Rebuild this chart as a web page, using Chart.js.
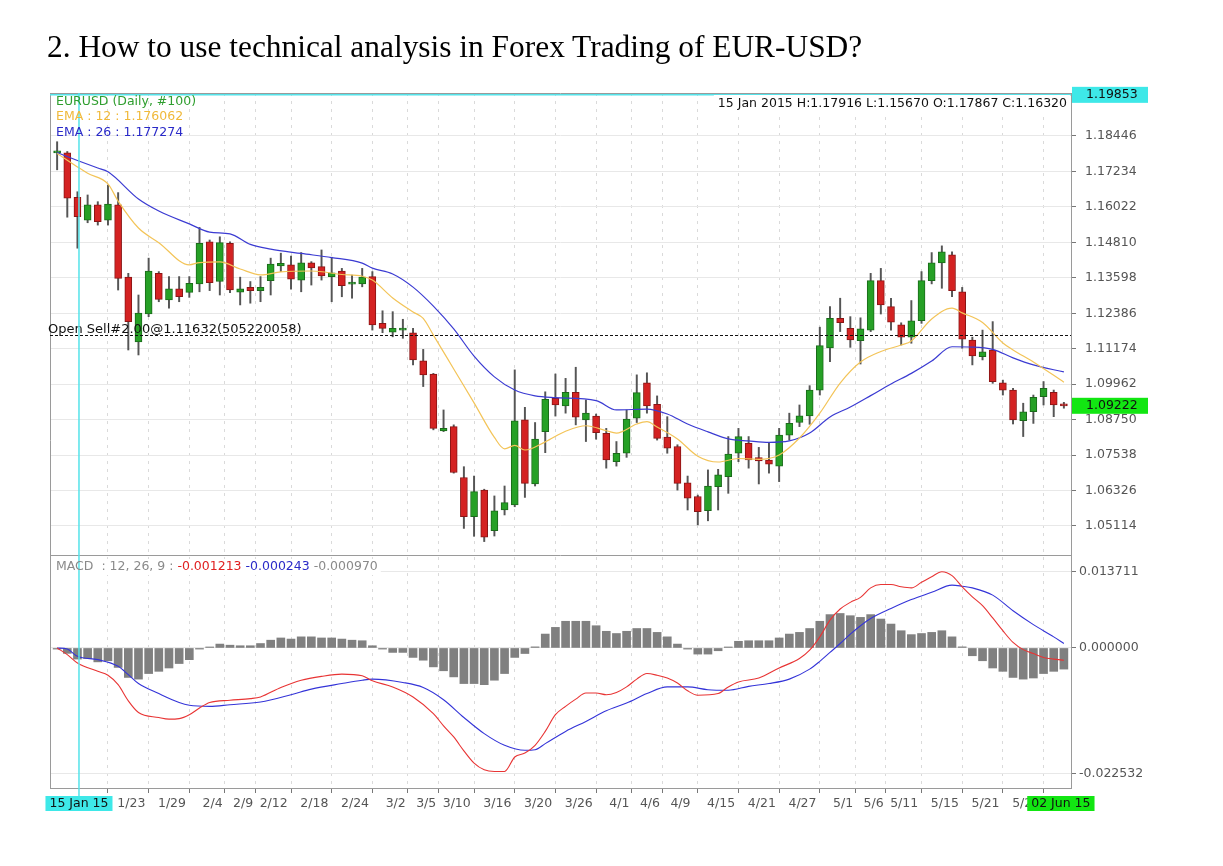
<!DOCTYPE html>
<html>
<head>
<meta charset="utf-8">
<script src="https://cdn.jsdelivr.net/npm/chart.js@4.4.1/dist/chart.umd.min.js"></script>
<style>
  body { margin: 0; background: #fff; }
  #title { position: absolute; left: 47px; top: 31px; font: 31.4px/31px "Liberation Serif", serif; color: #000; z-index: 2; white-space: nowrap; }
  #myChart { position: absolute; left: 0; top: 0; }
</style>
</head>
<body>
<div id="title">2. How to use technical analysis in Forex Trading of EUR-USD?</div>
<canvas id="myChart" width="1223" height="866"></canvas>
<script>
// daily candles, 14 Jan 2015 .. 02 Jun 2015
const opens = [1.1787,1.17867,1.1635,1.1557,1.1609,1.1557,1.1609,1.1362,1.1141,1.1236,
  1.1375,1.1284,1.1322,1.1310,1.1339,1.1483,1.1347,1.1478,1.1311,1.1327,
  1.1316,1.1350,1.1400,1.1404,1.1352,1.1411,1.1398,1.1364,1.1383,1.1338,
  1.1339,1.1364,1.1204,1.1174,1.1181,1.1172,1.1076,1.1031,1.0836,1.0851,
  1.0677,1.0543,1.0634,1.0495,1.0566,1.0583,1.0874,1.0655,1.0834,1.0948,
  1.0922,1.0968,1.0874,1.0887,1.0828,1.0731,1.0760,1.0880,1.1001,1.0927,
  1.0815,1.0783,1.0659,1.0612,1.0564,1.0646,1.0680,1.0760,1.0794,1.0745,
  1.0737,1.0716,1.0822,1.0865,1.0888,1.0976,1.1120,1.1221,1.1187,1.1145,
  1.1181,1.1350,1.1261,1.1199,1.1157,1.1213,1.1350,1.1411,1.1438,1.1312,
  1.1147,1.1090,1.1113,1.1001,1.0976,1.0871,1.0902,1.0953,1.0968,1.0925];
const highs = [1.1825,1.17916,1.1654,1.1643,1.1620,1.1677,1.1651,1.1375,1.1301,1.1427,
  1.1381,1.1364,1.1364,1.1364,1.1532,1.1489,1.1500,1.1483,1.1362,1.1347,
  1.1364,1.1427,1.1444,1.1434,1.1446,1.1415,1.1455,1.1430,1.1392,1.1369,
  1.1392,1.1381,1.1247,1.1244,1.1218,1.1187,1.1115,1.1033,1.0908,1.0857,
  1.0714,1.0682,1.0637,1.0614,1.0648,1.1045,1.0917,1.0865,1.0970,1.1031,
  1.1016,1.1054,1.0942,1.0894,1.0845,1.0800,1.0908,1.1028,1.1035,1.0956,
  1.0885,1.0789,1.0682,1.0617,1.0703,1.0705,1.0817,1.0845,1.0817,1.0780,
  1.0797,1.0845,1.0897,1.0925,1.0991,1.1191,1.1261,1.1290,1.1227,1.1223,
  1.1375,1.1392,1.1290,1.1206,1.1282,1.1381,1.1446,1.1469,1.1449,1.1327,
  1.1157,1.1181,1.1210,1.1010,1.0982,1.0931,1.0959,1.1005,1.0976,1.0934];
const lows = [1.1729,1.15670,1.1461,1.1548,1.1540,1.1540,1.1318,1.1113,1.1096,1.1227,
  1.1278,1.1256,1.1278,1.1293,1.1312,1.1316,1.1301,1.1309,1.1267,1.1273,
  1.1278,1.1301,1.1381,1.1321,1.1312,1.1335,1.1352,1.1278,1.1295,1.1290,
  1.1329,1.1181,1.1172,1.1158,1.1153,1.1062,1.0988,1.0840,1.0834,1.0692,
  1.0503,1.0476,1.0458,1.0477,1.0549,1.0577,1.0609,1.0648,1.0762,1.0887,
  1.0897,1.0857,1.0800,1.0808,1.0709,1.0716,1.0746,1.0865,1.0897,1.0805,
  1.0760,1.0634,1.0566,1.0515,1.0529,1.0566,1.0623,1.0731,1.0709,1.0655,
  1.0692,1.0663,1.0805,1.0851,1.0859,1.0959,1.1073,1.1176,1.1122,1.1065,
  1.1176,1.1236,1.1181,1.1130,1.1136,1.1204,1.1339,1.1324,1.1295,1.1119,
  1.1062,1.1079,1.0999,1.0959,1.0860,1.0817,1.0862,1.0925,1.0885,1.0914];
const closes = [1.1790,1.16320,1.1569,1.1609,1.1552,1.1612,1.1358,1.1210,1.1239,1.1383,
  1.1286,1.1322,1.1295,1.1341,1.1478,1.1343,1.1480,1.1318,1.1322,1.1316,
  1.1327,1.1407,1.1409,1.1355,1.1411,1.1394,1.1366,1.1377,1.1333,1.1341,
  1.1362,1.1199,1.1187,1.1187,1.1187,1.1079,1.1028,1.0845,1.0845,1.0694,
  1.0543,1.0629,1.0473,1.0563,1.0591,1.0871,1.0657,1.0808,1.0944,1.0925,
  1.0968,1.0883,1.0897,1.0830,1.0737,1.0760,1.0877,1.0967,1.0922,1.0811,
  1.0777,1.0657,1.0606,1.0560,1.0648,1.0686,1.0757,1.0817,1.0737,1.0734,
  1.0723,1.0822,1.0862,1.0888,1.0976,1.1128,1.1221,1.1206,1.1147,1.1185,
  1.1350,1.1267,1.1208,1.1157,1.1213,1.1350,1.1411,1.1449,1.1316,1.1150,
  1.1093,1.1107,1.1005,1.0976,1.0874,1.0902,1.0951,1.0982,1.0925,1.09222];

// moving averages (candle index -> value)
const ema12Idx = [0,2,3,5,6,8,10,13,14,16,18,20,22,25,28,30,31,33,35,36,37,39,41,43,44,45,46,48,50,52,54,55,57,58,59,61,63,65,67,69,71,73,75,77,79,81,83,84,86,88,89,91,93,94,96,99];
const ema12Val = [1.1785,1.1739,1.1717,1.1681,1.1622,1.1530,1.1480,1.1404,1.1412,1.1414,1.1390,1.1370,1.1380,1.1383,1.1371,1.1365,1.1352,1.1291,1.1243,1.1221,1.1164,1.1048,1.0932,1.0814,1.0775,1.0787,1.0771,1.0799,1.0835,1.0854,1.0837,1.0829,1.0860,1.0868,1.0850,1.0809,1.0750,1.0730,1.0742,1.0739,1.0754,1.0812,1.0897,1.1000,1.1072,1.1108,1.1130,1.1144,1.1219,1.1256,1.1240,1.1207,1.1137,1.1113,1.1072,1.1003];
const ema26Idx = [0,2,4,5,8,10,13,15,17,19,21,24,27,30,31,33,35,37,39,41,43,45,47,49,53,55,58,60,62,64,66,68,70,72,74,76,78,80,82,84,86,88,90,92,94,96,99];
const ema26Val = [1.1788,1.1761,1.1735,1.1722,1.1629,1.1588,1.1544,1.1516,1.1510,1.1474,1.1458,1.1443,1.1429,1.1410,1.1393,1.1373,1.1328,1.1263,1.1185,1.1092,1.1021,1.0976,1.0956,1.0950,1.0940,1.0908,1.0911,1.0894,1.0860,1.0833,1.0809,1.0802,1.0797,1.0802,1.0829,1.0884,1.0918,1.0957,1.0997,1.1033,1.1075,1.1124,1.1123,1.1115,1.1086,1.1062,1.1038];

// MACD (12, 26, 9)
const macdIdx = [0,1,2,4,5,6,7,8,10,11,12,13,14,15,17,19,20,22,24,26,28,30,31,33,35,37,38,39,40,41,42,43,44,45,46,47,48,49,50,51,52,53,54,55,56,57,58,59,60,61,62,63,65,66,67,69,71,73,74,75,76,77,78,79,80,81,82,83,84,85,86,87,88,89,90,91,92,93,94,95,96,97,98,99];
const macdVal = [0,-0.0012,-0.0027,-0.0042,-0.0049,-0.0066,-0.0095,-0.0116,-0.0125,-0.0128,-0.0127,-0.0120,-0.0108,-0.0098,-0.0094,-0.0091,-0.0088,-0.0071,-0.0058,-0.0051,-0.0047,-0.0050,-0.0059,-0.0070,-0.0088,-0.0118,-0.0140,-0.0160,-0.0185,-0.0207,-0.0219,-0.0222,-0.0222,-0.0196,-0.0189,-0.0175,-0.0150,-0.0120,-0.0105,-0.0092,-0.0081,-0.0081,-0.0084,-0.0080,-0.0070,-0.0056,-0.0046,-0.0049,-0.0054,-0.0063,-0.0077,-0.0085,-0.0082,-0.0070,-0.0061,-0.0054,-0.0036,-0.0019,-0.0004,0.0020,0.0050,0.0070,0.0082,0.0091,0.0108,0.0114,0.0114,0.0110,0.0108,0.0118,0.0128,0.0137,0.0130,0.0110,0.0092,0.0076,0.0054,0.0031,0.0010,-0.0003,-0.0010,-0.0017,-0.0020,-0.0022];
const signalIdx = [0,1,2,4,6,7,8,10,12,13,15,17,20,23,25,28,30,31,34,36,38,40,42,44,46,47,48,50,52,54,56,58,60,62,64,66,68,70,72,74,75,76,77,78,79,80,82,84,86,88,89,90,92,94,96,98,99];
const signalVal = [0,-0.0002,-0.0015,-0.0021,-0.0033,-0.0048,-0.0064,-0.0082,-0.0098,-0.0103,-0.0105,-0.0102,-0.0097,-0.0084,-0.0074,-0.0064,-0.0058,-0.0056,-0.0062,-0.0071,-0.0093,-0.0125,-0.0154,-0.0175,-0.0184,-0.0183,-0.0172,-0.0150,-0.0132,-0.0113,-0.0099,-0.0082,-0.0070,-0.0070,-0.0075,-0.0076,-0.0069,-0.0064,-0.0056,-0.0038,-0.0024,-0.0008,0.0008,0.0025,0.0040,0.0053,0.0071,0.0087,0.0100,0.0113,0.0111,0.0108,0.0095,0.0067,0.0042,0.0020,0.0008];
const hist = [-0.0002,-0.00097,-0.0020,-0.0019,-0.0025,-0.0023,-0.0035,-0.0053,-0.0056,-0.0046,
  -0.0042,-0.0036,-0.0028,-0.0021,-0.0002,0.0001,0.0007,0.0005,0.0004,0.0004,
  0.0008,0.0014,0.0018,0.0016,0.0020,0.0020,0.0018,0.0018,0.0016,0.0014,
  0.0013,0.0004,-0.0002,-0.0008,-0.0008,-0.0017,-0.0022,-0.0034,-0.0041,-0.0052,
  -0.0064,-0.0064,-0.0066,-0.0058,-0.0046,-0.0017,-0.0010,0.0002,0.0025,0.0037,
  0.0048,0.0048,0.0048,0.0040,0.0030,0.0026,0.0030,0.0035,0.0035,0.0028,
  0.0020,0.0007,-0.0002,-0.0011,-0.0011,-0.0005,0.0001,0.0012,0.0013,0.0013,
  0.0013,0.0018,0.0025,0.0028,0.0035,0.0048,0.0060,0.0062,0.0058,0.0055,
  0.0060,0.0052,0.0043,0.0031,0.0024,0.0026,0.0028,0.0031,0.0020,0.0002,
  -0.0014,-0.0023,-0.0036,-0.0042,-0.0053,-0.0056,-0.0054,-0.0046,-0.0042,-0.0038];

// axes
const priceTicks = [1.18446,1.17234,1.16022,1.14810,1.13598,1.12386,1.11174,1.09962,1.08750,1.07538,1.06326,1.05114];
const macdTicks = [0.013711, 0, -0.022532];
const xTickIdx = [7,11,15,18,21,25,29,33,36,39,43,47,51,55,58,61,65,69,73,77,80,83,87,91,95,99];
const xTickLabels = ["1/23","1/29","2/4","2/9","2/12","2/18","2/24","3/2","3/5","3/10","3/16","3/20","3/26","4/1","4/6","4/9","4/15","4/21","4/27","5/1","5/6","5/11","5/15","5/21","5/27","6/2"];

const cursorPos = 2.15;
const cursorPrice = 1.19853;
const lastPrice = 1.09222;
const openSell = 1.11632;

const FONT = "'DejaVu Sans', sans-serif";
const tickFont = { family: FONT, size: 12.5 };
const up = closes.map((c, i) => c >= opens[i]);

const overlay = {
  id: "overlay",
  afterDraw(chart) {
    const { ctx, chartArea: a } = chart;
    const { x, y } = chart.scales;
    ctx.save();

    // panel frames
    ctx.strokeStyle = "#9a9a9a";
    ctx.lineWidth = 1;
    ctx.beginPath();
    ctx.moveTo(a.left + 0.5, a.top); ctx.lineTo(a.left + 0.5, a.bottom);
    ctx.moveTo(a.left, a.top + 0.5); ctx.lineTo(a.right, a.top + 0.5);
    ctx.moveTo(a.left, Math.round(y.bottom) + 0.5); ctx.lineTo(a.right, Math.round(y.bottom) + 0.5);
    ctx.stroke();

    // open position
    const ys = Math.round(y.getPixelForValue(openSell)) + 0.5;
    ctx.strokeStyle = "#111";
    ctx.setLineDash([3, 2]);
    ctx.beginPath(); ctx.moveTo(a.left, ys); ctx.lineTo(a.right, ys); ctx.stroke();
    ctx.setLineDash([]);
    ctx.font = "13px " + FONT;
    ctx.fillStyle = "#111";
    ctx.textAlign = "left";
    ctx.textBaseline = "alphabetic";
    ctx.fillText("Open Sell#2.00@1.11632(505220058)", a.left - 2, ys - 3);

    ctx.font = "12.5px " + FONT;
    ctx.textBaseline = "middle";

    // header
    const head = "15 Jan 2015 H:1.17916 L:1.15670 O:1.17867 C:1.16320";
    const hw = ctx.measureText(head).width;
    const cx = x.getPixelForValue(cursorPos);
    const cy = y.getPixelForValue(cursorPrice);

    // legends
    ctx.textAlign = "left";
    const parts = [["MACD  : 12, 26, 9 : ", "#8a8a8a"], ["-0.001213 ", "#e02020"], ["-0.000243 ", "#2a2ac8"], ["-0.000970", "#8a8a8a"]];
    const ly = Math.round(y.bottom) + 12;
    const totalW = parts.reduce((s, p) => s + ctx.measureText(p[0]).width, 0);
    ctx.fillStyle = "#fff";
    ctx.fillRect(a.left + 1, ly - 8, totalW + 8, 16);

    // crosshair
    ctx.strokeStyle = "#55e3ea";
    ctx.lineWidth = 1.5;
    ctx.beginPath();
    ctx.moveTo(cx, a.top); ctx.lineTo(cx, a.bottom + 8);
    ctx.moveTo(a.left, cy); ctx.lineTo(a.right, cy);
    ctx.stroke();

    ctx.fillStyle = "#fff";
    ctx.fillRect(a.right - hw - 8, a.top + 2, hw + 7, 17);
    ctx.fillStyle = "#111";
    ctx.textAlign = "right";
    ctx.fillText(head, a.right - 4, a.top + 11);

    ctx.textAlign = "left";
    ctx.fillStyle = "#2f9e2f";
    ctx.fillText("EURUSD (Daily, #100)", a.left + 6, a.top + 9);
    ctx.fillStyle = "#f0b93a";
    ctx.fillText("EMA : 12 : 1.176062", a.left + 6, a.top + 24);
    ctx.fillStyle = "#2a2ac8";
    ctx.fillText("EMA : 26 : 1.177274", a.left + 6, a.top + 40);

    let lx = a.left + 6;
    for (const [t, c] of parts) {
      ctx.fillStyle = c;
      ctx.fillText(t, lx, ly);
      lx += ctx.measureText(t).width;
    }

    // price boxes on the axis
    const priceBox = (v, color) => {
      const py = y.getPixelForValue(v);
      ctx.fillStyle = color;
      ctx.fillRect(a.right + 1, py - 8, 76, 16);
      ctx.fillStyle = "#111";
      ctx.textAlign = "left";
      ctx.fillText(v.toFixed(5), a.right + 15, py);
    };
    priceBox(cursorPrice, "#3ee8e8");
    priceBox(lastPrice, "#12e612");

    // date boxes on the time axis
    const dateBox = (px, text, color) => {
      const w = ctx.measureText(text).width + 8;
      ctx.fillStyle = color;
      ctx.fillRect(px - w / 2, a.bottom + 8, w, 15);
      ctx.fillStyle = "#111";
      ctx.textAlign = "center";
      ctx.fillText(text, px, a.bottom + 16);
    };
    dateBox(cx, "15 Jan 15", "#3ee8e8");
    dateBox(x.getPixelForValue(opens.length - 1) - 3, "02 Jun 15", "#12e612");

    ctx.restore();
  }
};

const ctx = document.querySelector("#myChart").getContext("2d");

const data = {
  labels: opens.map((_, i) => i),
  datasets: [
    {
      type: "line", label: "EMA 12",
      data: ema12Idx.map((v, i) => ({ x: v, y: ema12Val[i] })),
      borderColor: "#f3c458", borderWidth: 1.2, pointRadius: 0,
      cubicInterpolationMode: "monotone", yAxisID: "y", order: 0,
    },
    {
      type: "line", label: "EMA 26",
      data: ema26Idx.map((v, i) => ({ x: v, y: ema26Val[i] })),
      borderColor: "#3b3bd2", borderWidth: 1.2, pointRadius: 0,
      cubicInterpolationMode: "monotone", yAxisID: "y", order: 0,
    },
    {
      type: "bar", label: "body",
      data: opens.map((o, i) => [o, closes[i]]),
      backgroundColor: up.map(u => (u ? "#26a026" : "#d42222")),
      borderColor: up.map(u => (u ? "#1a6a1a" : "#8a1515")),
      borderWidth: 1, borderSkipped: false, barThickness: 7, minBarLength: 2,
      grouped: false, yAxisID: "y", order: 1,
    },
    {
      type: "bar", label: "wick",
      data: lows.map((l, i) => [l, highs[i]]),
      backgroundColor: "#555", barThickness: 1.3,
      grouped: false, yAxisID: "y", order: 2,
    },
    {
      type: "bar", label: "hist",
      data: hist,
      backgroundColor: "#808080", barThickness: 8, minBarLength: 1,
      grouped: false, yAxisID: "m", order: 3,
    },
    {
      type: "line", label: "MACD",
      data: macdIdx.map((v, i) => ({ x: v, y: macdVal[i] })),
      borderColor: "#e83434", borderWidth: 1.1, pointRadius: 0,
      cubicInterpolationMode: "monotone", yAxisID: "m", order: 0,
    },
    {
      type: "line", label: "Signal",
      data: signalIdx.map((v, i) => ({ x: v, y: signalVal[i] })),
      borderColor: "#3434d8", borderWidth: 1.1, pointRadius: 0,
      cubicInterpolationMode: "monotone", yAxisID: "m", order: 0,
    },
  ],
};

const config = {
  type: "bar",
  data,
  options: {
    responsive: false,
    animation: false,
    layout: { padding: { left: 50, top: 93, right: 0, bottom: 0 } },
    plugins: { legend: { display: false }, tooltip: { enabled: false } },
    scales: {
      x: {
        type: "linear", min: -0.7, max: 99.7, offset: false,
        afterBuildTicks: (ax) => { ax.ticks = xTickIdx.map(v => ({ value: v })); },
        afterFit: (ax) => { ax.height = 78; },
        ticks: {
          callback: (v, i) => xTickLabels[i],
          autoSkip: false, maxRotation: 0, font: tickFont, color: "#555",
          padding: 3, labelOffset: 3,
        },
        grid: { color: "#dadada", tickLength: 5, tickColor: "#777" },
        border: { color: "#9a9a9a", dash: [3, 5] },
      },
      y: {
        type: "linear", position: "right", stack: "panes", stackWeight: 462,
        min: 1.04121, max: 1.19916,
        afterBuildTicks: (ax) => { ax.ticks = priceTicks.map(v => ({ value: v })); },
        afterFit: (ax) => { ax.width = 152; },
        ticks: { callback: (v) => v.toFixed(5), font: tickFont, color: "#555", padding: 9 },
        grid: { color: "#e8e8e8", tickLength: 5, tickColor: "#777" },
        border: { color: "#9a9a9a" },
      },
      m: {
        type: "linear", position: "right", stack: "panes", stackWeight: 233,
        min: -0.025175, max: 0.016714,
        afterBuildTicks: (ax) => { ax.ticks = macdTicks.map(v => ({ value: v })); },
        afterFit: (ax) => { ax.width = 152; },
        ticks: { callback: (v) => v.toFixed(6), font: tickFont, color: "#555", padding: 3 },
        grid: { color: "#e8e8e8", tickLength: 5, tickColor: "#777" },
        border: { color: "#9a9a9a" },
      },
    },
  },
  plugins: [overlay],
};

const myChart = new Chart(ctx, config);
</script>
</body>
</html>
